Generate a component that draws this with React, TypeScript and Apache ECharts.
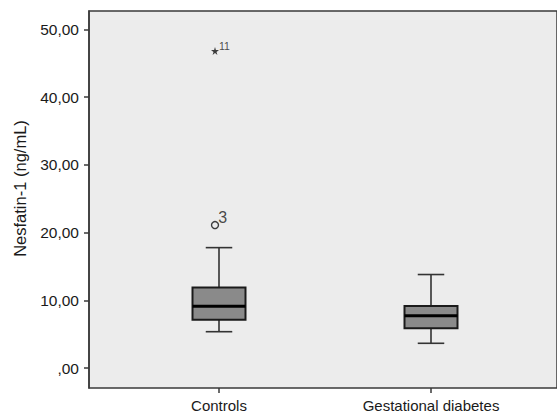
import React, { useEffect, useRef } from "react";
import * as echarts from "echarts";

const categories = ["Controls", "Gestational diabetes"];
// [whiskerLow, Q1, median, Q3, whiskerHigh]
const boxValues = [
  [5.36, 7.13, 9.1, 11.9, 17.77],
  [3.65, 5.86, 7.73, 9.16, 13.8],
];
const outliers = [{ cat: 0, value: 21.1, label: "3" }];
const extremes = [{ cat: 0, value: 46.8, label: "11" }];
const yTicks = [0, 10, 20, 30, 40, 50];
const yTitle = "Nesfatin-1 (ng/mL)";

const FONT = "'Liberation Sans', Arial, sans-serif";
const Y_MIN = -2.95;
const Y_MAX = 52.7;

const STAR =
  "path://M50,0 L61,35 L98,35 L68,57 L79,91 L50,70 L21,91 L32,57 L2,35 L39,35 Z";

export default function App() {
  const ref = useRef<HTMLDivElement>(null);
  useEffect(() => {
    if (!ref.current) return;
    const chart = echarts.init(ref.current, undefined, { renderer: "svg" });
    const fmt = (v: number) =>
      v === 0 ? ",00" : v.toFixed(2).replace(".", ",");
    chart.setOption({
      animation: false,
      grid: [
        {
          left: 89,
          top: 11,
          right: -3,
          bottom: 32,
          show: true,
          backgroundColor: "#ececec",
          borderColor: "#3a3a3a",
          borderWidth: 1.5,
        },
        { left: 113, width: 424, top: 11, bottom: 32 },
      ],
      xAxis: [
        { type: "value", gridIndex: 0, show: false, min: 0, max: 1 },
        {
          type: "category",
          gridIndex: 1,
          data: categories,
          axisLine: { show: false, onZero: false },
          axisTick: {
            show: true,
            alignWithLabel: true,
            length: 5,
            lineStyle: { color: "#3a3a3a", width: 1.5 },
          },
          axisLabel: {
            interval: 0,
            margin: 10,
            fontFamily: FONT,
            fontSize: 15,
            color: "#1a1a1a",
          },
        },
      ],
      yAxis: [
        {
          type: "value",
          gridIndex: 0,
          min: Y_MIN,
          max: Y_MAX,
          name: yTitle,
          nameLocation: "middle",
          nameGap: 61,
          nameTextStyle: {
            fontFamily: FONT,
            fontSize: 16.5,
            color: "#1a1a1a",
            padding: [0, 0, 0, 22],
          },
          axisLine: { show: true, lineStyle: { color: "#3a3a3a", width: 1.5 } },
          axisTick: {
            show: true,
            length: 5,
            customValues: yTicks,
            lineStyle: { color: "#3a3a3a", width: 1.5 },
          },
          axisLabel: {
            customValues: yTicks,
            formatter: fmt,
            margin: 10,
            fontFamily: FONT,
            fontSize: 15.5,
            color: "#1a1a1a",
          },
          splitLine: { show: false },
        },
        { type: "value", gridIndex: 1, min: Y_MIN, max: Y_MAX, show: false },
      ],
      series: [
        {
          type: "custom",
          xAxisIndex: 1,
          yAxisIndex: 1,
          data: boxValues.map((b, i) => [i, ...b]),
          renderItem: (params: any, api: any) => {
            const i = api.value(0);
            const lo = api.coord([i, api.value(1)]);
            const q1 = api.coord([i, api.value(2)]);
            const med = api.coord([i, api.value(3)]);
            const q3 = api.coord([i, api.value(4)]);
            const hi = api.coord([i, api.value(5)]);
            const band = api.size([1, 0])[0];
            const bw = band * 0.25;
            const cw = bw / 2;
            const cx = lo[0];
            const lineStyle = { stroke: "#333", lineWidth: 1.6 };
            return {
              type: "group",
              children: [
                { type: "line", shape: { x1: cx, y1: hi[1], x2: cx, y2: q3[1] }, style: lineStyle },
                { type: "line", shape: { x1: cx, y1: q1[1], x2: cx, y2: lo[1] }, style: lineStyle },
                { type: "line", shape: { x1: cx - cw / 2, y1: hi[1], x2: cx + cw / 2, y2: hi[1] }, style: lineStyle },
                { type: "line", shape: { x1: cx - cw / 2, y1: lo[1], x2: cx + cw / 2, y2: lo[1] }, style: lineStyle },
                {
                  type: "rect",
                  shape: { x: cx - bw / 2, y: q3[1], width: bw, height: q1[1] - q3[1] },
                  style: { fill: "#8a8a8a", stroke: "#1a1a1a", lineWidth: 2 },
                },
                {
                  type: "line",
                  shape: { x1: cx - bw / 2, y1: med[1], x2: cx + bw / 2, y2: med[1] },
                  style: { stroke: "#000", lineWidth: 3 },
                },
              ],
            };
          },
        },
        {
          type: "scatter",
          xAxisIndex: 1,
          yAxisIndex: 1,
          data: outliers.map((o) => ({ value: [o.cat, o.value], name: o.label })),
          symbol: "circle",
          symbolSize: 7,
          symbolOffset: [-4, 0],
          itemStyle: { color: "#ececec", borderColor: "#111", borderWidth: 1.4 },
          label: {
            show: true,
            formatter: (p: any) => p.name,
            position: "right",
            offset: [-6, -8],
            fontFamily: FONT,
            fontSize: 16,
            color: "#1a1a1a",
          },
        },
        {
          type: "scatter",
          xAxisIndex: 1,
          yAxisIndex: 1,
          data: extremes.map((o) => ({ value: [o.cat, o.value], name: o.label })),
          symbol: STAR,
          symbolSize: 8,
          symbolOffset: [-4, 0],
          itemStyle: { color: "#111" },
          label: {
            show: true,
            formatter: (p: any) => p.name,
            position: "right",
            offset: [-5, -5],
            fontFamily: FONT,
            fontSize: 10.5,
            color: "#1a1a1a",
          },
        },
      ],
    });
    return () => chart.dispose();
  }, []);
  return <div ref={ref} style={{ width: 557, height: 420, position: "absolute", left: 0, top: 0 }} />;
}
